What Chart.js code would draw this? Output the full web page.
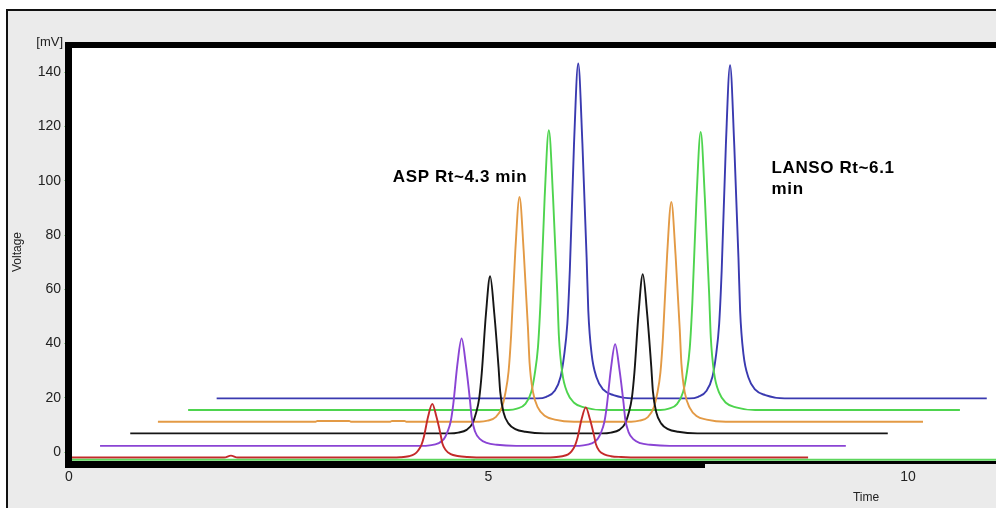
<!DOCTYPE html>
<html>
<head>
<meta charset="utf-8">
<script src="https://cdn.jsdelivr.net/npm/chart.js@4.4.0/dist/chart.umd.min.js"></script>
<style>
  html, body { margin: 0; padding: 0; background: #fff; }
  #chromChart { display: block; }
</style>
</head>
<body>
<canvas id="chromChart" width="996" height="508"></canvas>
<script>
// [time (min), signal (mV)]
const bottomTrace = [[0, -2.8], [11.05, -2.8]];

const redTrace = [
  [0, -2.0], [1.85, -2.0], [1.93, -1.3], [2.01, -2.0],
  [3.85, -2.0], [3.95, -1.9], [4.05, -1.5], [4.12, -0.7], [4.16, 0.5], [4.20, 2.6], [4.23, 5.6], [4.28, 13.0], [4.33, 17.8],
  [4.38, 13.0], [4.43, 6.4], [4.45, 3.3], [4.49, 0.8], [4.55, -0.7], [4.63, -1.4], [4.75, -1.8], [4.98, -2.0],
  [5.68, -2.0], [5.78, -1.9], [5.88, -1.5], [5.95, -0.8], [5.99, 0.3], [6.03, 2.3], [6.06, 5.1], [6.11, 12.1], [6.16, 16.5],
  [6.21, 12.1], [6.26, 5.9], [6.28, 3.0], [6.32, 0.5], [6.38, -0.8], [6.46, -1.5], [6.58, -1.8], [6.81, -2.0],
  [8.81, -2.0]
];

const purpleTrace = [
  [0.37, 2.3],
  [4.20, 2.3], [4.30, 2.5], [4.40, 3.2], [4.47, 4.9], [4.51, 7.4], [4.55, 11.3], [4.58, 17.5], [4.63, 32.4], [4.68, 41.9],
  [4.73, 32.4], [4.78, 19.0], [4.80, 12.8], [4.84, 7.6], [4.90, 4.8], [4.98, 3.4], [5.10, 2.7], [5.33, 2.3],
  [6.03, 2.3], [6.13, 2.5], [6.23, 3.2], [6.30, 4.8], [6.34, 7.1], [6.38, 10.9], [6.41, 16.8], [6.46, 30.8], [6.51, 39.8],
  [6.56, 30.8], [6.61, 18.2], [6.63, 12.3], [6.67, 7.4], [6.73, 4.7], [6.81, 3.3], [6.93, 2.7], [7.16, 2.3],
  [9.26, 2.3]
];

const blackTrace = [
  [0.73, 6.9],
  [4.54, 6.9], [4.64, 7.2], [4.74, 8.2], [4.81, 10.6], [4.85, 14.2], [4.89, 19.9], [4.92, 29.1], [4.97, 50.9], [5.02, 64.8],
  [5.07, 50.9], [5.12, 31.4], [5.14, 22.3], [5.18, 14.6], [5.24, 10.5], [5.32, 8.5], [5.44, 7.5], [5.67, 6.9],
  [6.36, 6.9], [6.46, 7.2], [6.56, 8.2], [6.63, 10.6], [6.67, 14.2], [6.71, 20.1], [6.74, 29.4], [6.79, 51.5], [6.84, 65.6],
  [6.89, 51.5], [6.94, 31.8], [6.96, 22.5], [7.00, 14.7], [7.06, 10.5], [7.14, 8.5], [7.26, 7.5], [7.49, 6.9],
  [9.76, 6.9]
];

const orangeTrace = [
  [1.06, 11.2], [2.94, 11.2], [2.96, 11.5], [3.34, 11.5], [3.36, 11.2], [3.83, 11.2], [3.85, 11.5], [4.00, 11.5], [4.02, 11.2],
  [4.89, 11.2], [4.99, 11.6], [5.09, 13.0], [5.16, 16.5], [5.20, 21.5], [5.24, 29.8], [5.27, 43.0], [5.32, 74.1], [5.37, 94.0],
  [5.42, 74.1], [5.47, 46.2], [5.49, 33.0], [5.53, 22.3], [5.59, 16.4], [5.67, 13.4], [5.79, 12.0], [6.02, 11.2],
  [6.70, 11.2], [6.80, 11.6], [6.90, 12.9], [6.97, 16.4], [7.01, 21.3], [7.05, 29.4], [7.08, 42.3], [7.13, 72.8], [7.18, 92.2],
  [7.23, 72.8], [7.28, 45.4], [7.30, 32.6], [7.34, 22.0], [7.40, 16.3], [7.48, 13.3], [7.60, 12.0], [7.83, 11.2],
  [10.18, 11.2]
];

const greenTrace = [
  [1.42, 15.5],
  [5.24, 15.5], [5.34, 16.0], [5.44, 17.8], [5.51, 22.2], [5.55, 28.5], [5.59, 38.6], [5.62, 55.0], [5.67, 93.9], [5.72, 118.6],
  [5.77, 93.9], [5.82, 59.0], [5.84, 42.6], [5.88, 29.2], [5.94, 21.9], [6.02, 18.2], [6.14, 16.5], [6.37, 15.5],
  [7.05, 15.5], [7.15, 16.0], [7.25, 17.8], [7.32, 22.2], [7.36, 28.4], [7.40, 38.5], [7.43, 54.8], [7.48, 93.4], [7.53, 118.0],
  [7.58, 93.4], [7.63, 58.8], [7.65, 42.5], [7.69, 29.1], [7.75, 21.9], [7.83, 18.2], [7.95, 16.5], [8.18, 15.5],
  [10.62, 15.5]
];

const blueTrace = [
  [1.76, 19.8],
  [5.59, 19.8], [5.69, 20.4], [5.79, 22.6], [5.86, 27.8], [5.90, 35.2], [5.94, 47.3], [5.97, 67.0], [6.02, 113.6], [6.07, 143.2],
  [6.12, 113.6], [6.17, 71.8], [6.19, 52.2], [6.23, 36.1], [6.29, 27.4], [6.37, 23.0], [6.49, 21.0], [6.72, 19.8],
  [7.40, 19.8], [7.50, 20.4], [7.60, 22.6], [7.67, 27.8], [7.71, 35.1], [7.75, 47.2], [7.78, 66.8], [7.83, 113.1], [7.88, 142.6],
  [7.93, 113.1], [7.98, 71.6], [8.00, 52.0], [8.04, 36.0], [8.10, 27.4], [8.18, 23.0], [8.30, 21.0], [8.53, 19.8],
  [10.94, 19.8]
];

const xTickValues = [0, 5, 10];
const yTickValues = [0, 20, 40, 60, 80, 100, 120, 140];
const yUnit = '[mV]';
const xTitle = 'Time';
const yTitle = 'Voltage';
const aspNote = 'ASP Rt~4.3 min';
const lansoNote = ['LANSO Rt~6.1', 'min'];

const toXY = arr => arr.map(p => ({ x: p[0], y: p[1] }));

function trace(data, color) {
  return {
    data: toXY(data),
    borderColor: color,
    borderWidth: 1.9,
    pointRadius: 0,
    fill: false,
    cubicInterpolationMode: 'monotone'
  };
}

// gray frame, white plot area, thick black plot borders and texts
const framePlugin = {
  id: 'frame',
  beforeDraw(chart) {
    const c = chart.ctx, a = chart.chartArea;
    c.save();
    c.fillStyle = '#fff';
    c.fillRect(0, 0, chart.width, chart.height);
    c.fillStyle = '#ebebeb';
    c.fillRect(8, 11, chart.width - 8, chart.height - 11);
    c.fillStyle = '#111';
    c.fillRect(6, 9, 2, chart.height - 9);
    c.fillRect(6, 9, chart.width - 6, 2);
    c.fillStyle = '#fff';
    c.fillRect(a.left, a.top, a.right - a.left, a.bottom - a.top);
    c.restore();
  },
  afterDatasetsDraw(chart) {
    const c = chart.ctx, a = chart.chartArea;
    const xs = chart.scales.x, ys = chart.scales.y;
    c.save();
    c.fillStyle = '#000';
    c.fillRect(a.left - 4, a.top - 3, 7, a.bottom - a.top + 7);
    c.fillRect(a.left - 4, a.top - 3, a.right - a.left + 4, 6);
    c.fillRect(a.left - 4, a.bottom - 2, 640, 7);
    c.fillRect(a.left + 636, a.bottom - 2, a.right - a.left - 636, 3);

    c.fillStyle = '#222';
    c.font = '13px "Liberation Sans", Arial, sans-serif';
    c.textAlign = 'right';
    c.textBaseline = 'middle';
    c.fillText(yUnit, a.left - 6, a.top - 3);
    c.textAlign = 'center';
    c.font = '12px "Liberation Sans", Arial, sans-serif';
    c.fillText(xTitle, 866, 498);
    c.save();
    c.translate(18, 252);
    c.rotate(-Math.PI / 2);
    c.fillText(yTitle, 0, 0);
    c.restore();

    c.fillStyle = '#000';
    c.font = 'bold 17px "Liberation Sans", Arial, sans-serif';
    c.textAlign = 'left';
    c.textBaseline = 'alphabetic';
    c.letterSpacing = '0.6px';
    c.fillText(aspNote, xs.getPixelForValue(3.86), ys.getPixelForValue(99.6));
    c.fillText(lansoNote[0], xs.getPixelForValue(8.375), ys.getPixelForValue(102.7));
    c.fillText(lansoNote[1], xs.getPixelForValue(8.375), ys.getPixelForValue(95.0));
    c.restore();
  }
};

const ctx = document.getElementById('chromChart').getContext('2d');
const chromChart = new Chart(ctx, {
  type: 'line',
  data: {
    datasets: [
      trace(bottomTrace, '#5cd65c'),
      trace(redTrace, '#c42a2a'),
      trace(purpleTrace, '#8a44d4'),
      trace(blackTrace, '#151515'),
      trace(orangeTrace, '#e39a45'),
      trace(greenTrace, '#4ed44e'),
      trace(blueTrace, '#3a3ab0')
    ]
  },
  options: {
    responsive: false,
    animation: false,
    devicePixelRatio: 1,
    layout: { padding: { top: 45, right: 0, bottom: 0, left: 0 } },
    plugins: { legend: { display: false }, tooltip: { enabled: false } },
    scales: {
      x: {
        type: 'linear',
        min: 0,
        max: 11.05,
        afterBuildTicks: s => { s.ticks = xTickValues.map(v => ({ value: v })); },
        afterFit: s => { s.height = 45; },
        grid: { display: false, drawTicks: false },
        border: { display: false },
        ticks: {
          autoSkip: false,
          maxRotation: 0,
          padding: 6,
          color: '#222',
          font: { size: 14, family: '"Liberation Sans", Arial, sans-serif' }
        }
      },
      y: {
        min: -4,
        max: 150,
        afterBuildTicks: s => { s.ticks = yTickValues.map(v => ({ value: v })); },
        afterFit: s => { s.width = 69; },
        grid: { drawOnChartArea: false, drawTicks: true, tickLength: 5, color: '#9c9' },
        border: { display: false },
        ticks: {
          padding: 3,
          color: '#222',
          font: { size: 14, family: '"Liberation Sans", Arial, sans-serif' }
        }
      }
    }
  },
  plugins: [framePlugin]
});
</script>
</body>
</html>
